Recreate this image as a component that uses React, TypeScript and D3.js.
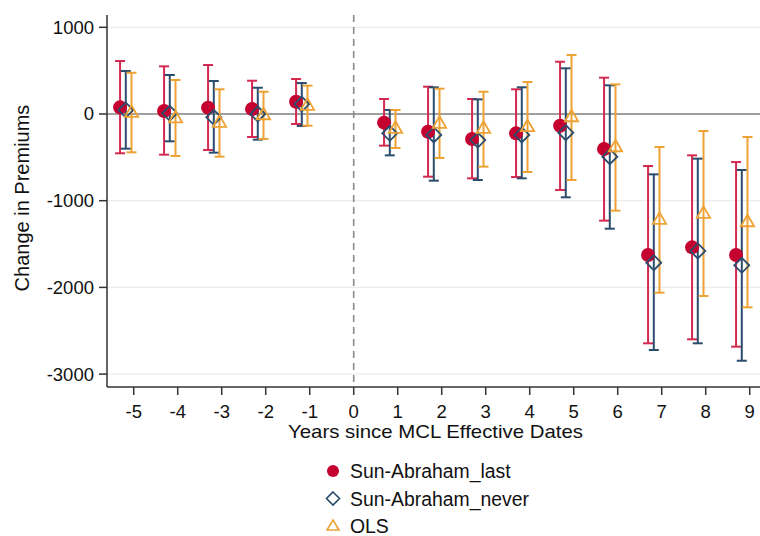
import React from "react";
import * as d3 from "d3";

const periods = [-5, -4, -3, -2, -1, 1, 2, 3, 4, 5, 6, 7, 8, 9];
const xTicks = [-5, -4, -3, -2, -1, 0, 1, 2, 3, 4, 5, 6, 7, 8, 9];
const yTicks = [1000, 0, -1000, -2000, -3000];

const saLastEst = [77, 35, 73, 58, 142, -100, -204, -288, -223, -135, -404, -1626, -1538, -1626];
const saLastLo = [-453, -469, -415, -265, -115, -365, -723, -742, -727, -877, -1230, -2645, -2599, -2684];
const saLastHi = [611, 550, 565, 384, 404, 173, 315, 173, 285, 603, 419, -600, -477, -554];

const saNeverEst = [46, 8, -38, 0, 115, -223, -242, -300, -242, -215, -492, -1715, -1580, -1745];
const saNeverLo = [-400, -315, -446, -296, -138, -477, -769, -761, -742, -961, -1323, -2722, -2645, -2846];
const saNeverHi = [496, 450, 381, 303, 357, 46, 308, 169, 308, 527, 331, -696, -515, -646];

const olsEst = [20, -43, -96, -8, 100, -165, -107, -165, -146, -31, -377, -1215, -1146, -1242];
const olsLo = [-442, -484, -492, -288, -135, -392, -507, -607, -669, -761, -1115, -2061, -2099, -2230];
const olsHi = [476, 392, 285, 257, 327, 46, 292, 257, 369, 680, 342, -381, -196, -265];

const seriesNames = ["Sun-Abraham_last", "Sun-Abraham_never", "OLS"];

const W = 760, H = 536;
const left = 107, right = 760, top = 15, bottom = 387;
const FONT = "Arial, 'Liberation Sans', Helvetica, sans-serif";

const RED = "#c4012f";
const RED_CI = "#d42a52";
const BLUE = "#2a4d6e";
const ORANGE = "#eda233";

export default function App() {
  const x = d3.scaleLinear().domain([-5.607, 9.234]).range([left, right]);
  const y = d3.scaleLinear().domain([-3149, 1142]).range([bottom, top]);

  const series = [
    { name: seriesNames[0], est: saLastEst, lo: saLastLo, hi: saLastHi, off: -0.31, color: RED_CI, shape: "circle" },
    { name: seriesNames[1], est: saNeverEst, lo: saNeverLo, hi: saNeverHi, off: -0.18, color: BLUE, shape: "diamond" },
    { name: seriesNames[2], est: olsEst, lo: olsLo, hi: olsHi, off: -0.05, color: ORANGE, shape: "triangle" },
  ];

  const marker = (shape: string, cx: number, cy: number, key: string) => {
    if (shape === "circle") return <circle key={key} cx={cx} cy={cy} r={7} fill={RED} />;
    if (shape === "diamond") {
      const s = 7.5;
      return <path key={key} d={`M${cx},${cy - s}L${cx + s},${cy}L${cx},${cy + s}L${cx - s},${cy}Z`} fill="none" stroke={BLUE} strokeWidth={1.8} />;
    }
    const s = 7;
    return <path key={key} d={`M${cx},${cy - s}L${cx + s * 0.95},${cy + s * 0.65}L${cx - s * 0.95},${cy + s * 0.65}Z`} fill="none" stroke={ORANGE} strokeWidth={1.8} />;
  };

  const legendY = [471, 498.5, 526];

  return (
    <svg width={W} height={H} style={{ position: "absolute", left: 0, top: 0, background: "white" }} fontFamily={FONT}>
      <rect x={0} y={0} width={W} height={H} fill="white" />
      {/* grid */}
      {yTicks.filter((t) => t !== 0).map((t) => (
        <line key={"g" + t} x1={left} x2={right} y1={y(t)} y2={y(t)} stroke="#ececec" strokeWidth={1.2} />
      ))}
      <line x1={left} x2={right} y1={y(0)} y2={y(0)} stroke="#7f7f7f" strokeWidth={1.6} />
      <line x1={x(0)} x2={x(0)} y1={top} y2={bottom} stroke="#8a8a8a" strokeWidth={1.6} strokeDasharray="7,5" />

      {/* series */}
      {series.map((s) => (
        <g key={s.name}>
          {periods.map((p, i) => {
            const cx = x(p + s.off);
            const cap = 5;
            return (
              <g key={p}>
                <line x1={cx} x2={cx} y1={y(s.lo[i])} y2={y(s.hi[i])} stroke={s.color} strokeWidth={2} />
                <line x1={cx - cap} x2={cx + cap} y1={y(s.lo[i])} y2={y(s.lo[i])} stroke={s.color} strokeWidth={2} />
                <line x1={cx - cap} x2={cx + cap} y1={y(s.hi[i])} y2={y(s.hi[i])} stroke={s.color} strokeWidth={2} />
              </g>
            );
          })}
        </g>
      ))}
      {series.map((s) => (
        <g key={s.name + "m"}>
          {periods.map((p, i) => marker(s.shape, x(p + s.off), y(s.est[i]), s.name + p))}
        </g>
      ))}

      {/* axes */}
      <line x1={left} x2={left} y1={top} y2={bottom} stroke="#333" strokeWidth={1.5} />
      <line x1={left} x2={right} y1={bottom} y2={bottom} stroke="#333" strokeWidth={1.5} />
      {yTicks.map((t) => (
        <g key={"yt" + t}>
          <line x1={left - 8} x2={left} y1={y(t)} y2={y(t)} stroke="#333" strokeWidth={1.5} />
          <text x={left - 13} y={y(t)} dy="0.35em" textAnchor="end" fontSize={18.5} fill="#111">{t}</text>
        </g>
      ))}
      {xTicks.map((t) => (
        <g key={"xt" + t}>
          <line x1={x(t)} x2={x(t)} y1={bottom} y2={bottom + 8} stroke="#333" strokeWidth={1.5} />
          <text x={x(t)} y={418} textAnchor="middle" fontSize={18.5} fill="#111">{t}</text>
        </g>
      ))}
      <text x={288} y={437.5} fontSize={19} textLength={295} lengthAdjust="spacingAndGlyphs" fill="#111">Years since MCL Effective Dates</text>
      <text transform={`translate(28.5,198) rotate(-90)`} textAnchor="middle" fontSize={20} fill="#111">Change in Premiums</text>

      {/* legend */}
      {seriesNames.map((n, i) => {
        const cy = legendY[i];
        const shape = series[i].shape;
        let m;
        if (shape === "circle") m = <circle cx={333} cy={cy} r={6} fill={RED} />;
        else if (shape === "diamond") m = <path d={`M333,${cy - 6.5}L339.5,${cy}L333,${cy + 6.5}L326.5,${cy}Z`} fill="none" stroke={BLUE} strokeWidth={1.6} />;
        else m = <path d={`M333,${cy - 6}L339,${cy + 4}L327,${cy + 4}Z`} fill="none" stroke={ORANGE} strokeWidth={1.6} />;
        return (
          <g key={"lg" + n}>
            {m}
            <text x={350} y={cy + 7} fontSize={19.4} fill="#111">{n}</text>
          </g>
        );
      })}
    </svg>
  );
}
